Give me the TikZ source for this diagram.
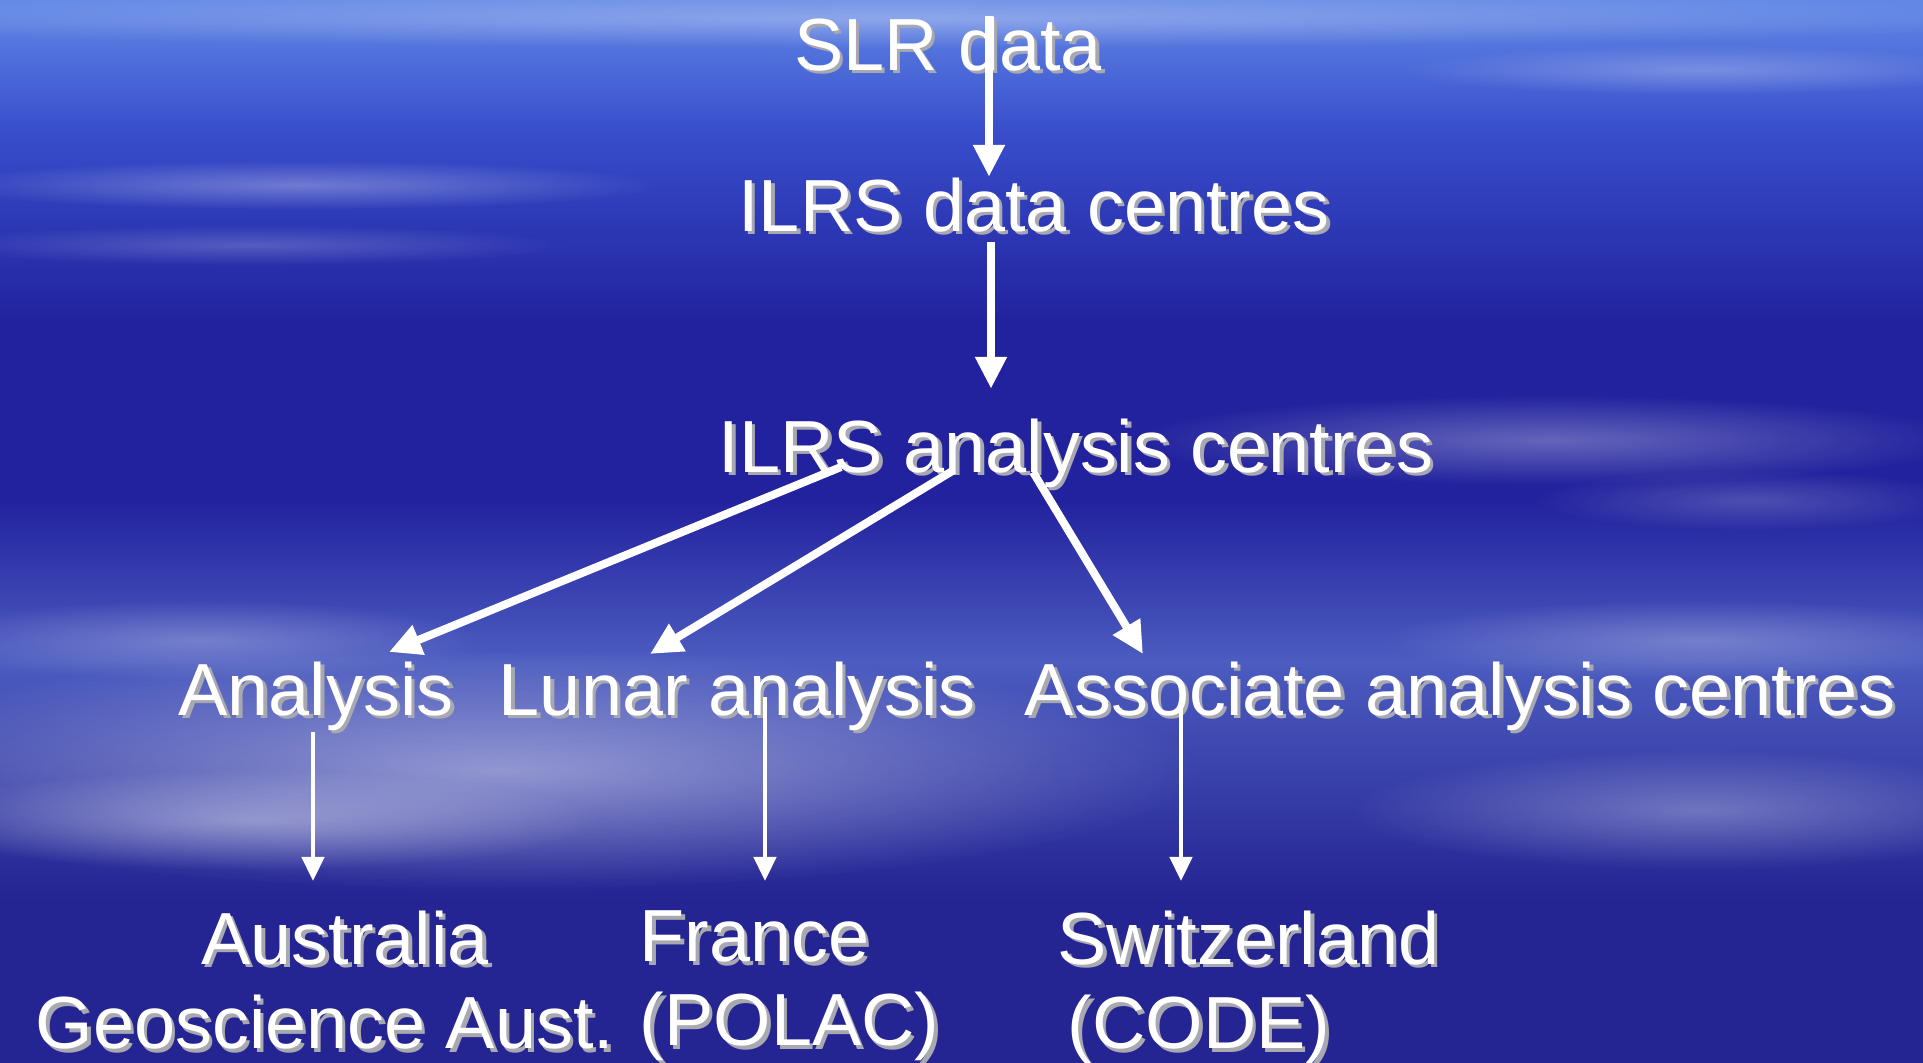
\documentclass[tikz,border=0pt]{standalone}
\usepackage{fontspec}
\setmainfont{Liberation Sans}
\usepackage{tikz}
\usetikzlibrary{arrows.meta, calc, fadings}
\definecolor{skyTop}{RGB}{98, 136, 230}
\definecolor{skyUpper}{RGB}{56, 78, 204}
\definecolor{skyNavy}{RGB}{34, 34, 158}
\definecolor{skyMist}{RGB}{76, 92, 192}
\definecolor{skyBottom}{RGB}{36, 36, 146}
\definecolor{shadowGray}{RGB}{168, 168, 176}

\tikzfading[name=soft blob, inner color=transparent!0, outer color=transparent!100]

% white text with a small grey drop shadow
\newcommand{\dropsh}[1]{\leavevmode\rlap{\kern0.035cm\raisebox{-0.035cm}{\textcolor{shadowGray}{#1}}}#1}

\begin{document}
\begin{tikzpicture}[
    x=0.01cm, y=-0.01cm,
    font=\fontsize{21pt}{24pt}\selectfont,
    % Estilo para textos
    label_text/.style={
        text=white,
        inner sep=0pt,
        anchor=base
    },
    % Flechas gruesas (parte superior)
    big_arrow/.style={
        -{Triangle[length=0.32cm, width=0.30cm]},
        line width=0.08cm,
        white
    },
    % Flechas finas (parte inferior)
    small_arrow/.style={
        -{Triangle[length=0.24cm, width=0.22cm]},
        line width=0.045cm,
        white
    },
    % Nubes del fondo
    streak/.style={
        fill=white,
        path fading=soft blob
    }
]

    \useasboundingbox (0,0) rectangle (1923,1063);

    % --- Fondo: cielo azul ---
    \shade[top color=skyTop, bottom color=skyUpper] (0,0) rectangle (1923,131);
    \shade[top color=skyUpper, bottom color=skyNavy] (0,130) rectangle (1923,321);
    \fill[skyNavy] (0,320) rectangle (1923,501);
    \shade[top color=skyNavy, bottom color=skyMist] (0,500) rectangle (1923,661);
    \shade[top color=skyMist, bottom color=skyBottom] (0,660) rectangle (1923,901);
    \fill[skyBottom] (0,900) rectangle (1923,1063);

    \fill[streak, opacity=0.3] (900,18) ellipse [x radius=12cm, y radius=0.3cm];
    \fill[streak, opacity=0.25] (1700,70) ellipse [x radius=3cm, y radius=0.25cm];
    \fill[streak, opacity=0.3] (300,185) ellipse [x radius=3.6cm, y radius=0.25cm];
    \fill[streak, opacity=0.2] (250,245) ellipse [x radius=3.2cm, y radius=0.2cm];
    \fill[streak, opacity=0.3] (1550,440) ellipse [x radius=4.2cm, y radius=0.45cm];
    \fill[streak, opacity=0.2] (1750,500) ellipse [x radius=2.2cm, y radius=0.3cm];
    \fill[streak, opacity=0.25] (1700,640) ellipse [x radius=3.2cm, y radius=0.4cm];
    \fill[streak, opacity=0.25] (200,640) ellipse [x radius=2.8cm, y radius=0.4cm];
    \fill[streak, opacity=0.45] (500,770) ellipse [x radius=7cm, y radius=1.2cm];
    \fill[streak, opacity=0.35] (250,820) ellipse [x radius=3.5cm, y radius=0.5cm];
    \fill[streak, opacity=0.3] (1700,810) ellipse [x radius=3.5cm, y radius=0.6cm];

    % --- Textos ---
    \node[label_text] (slr_data) at (948,70) {\dropsh{SLR data}};
    \node[label_text] (ilrs_data) at (1034,231) {\dropsh{ILRS data centres}};
    \node[label_text] (ilrs_ana) at (1076,472) {\dropsh{ILRS analysis centres}};

    \node[label_text] (ana) at (316,715) {\dropsh{Analysis}};
    \node[label_text] (lunar) at (737,715) {\dropsh{Lunar analysis}};
    \node[label_text] (assoc) at (1460,715) {\dropsh{Associate analysis centres}};

    \node[label_text, anchor=north, align=center] (aus) at (325,910) {
        \hspace*{0.4cm}\dropsh{Australia}\\
        \dropsh{Geoscience Aust.}
    };
    \node[label_text, anchor=north west, align=left] (fra) at (639,910) {
        \dropsh{France}\\
        \dropsh{(POLAC)}
    };
    \node[label_text, anchor=north west, align=left] (swi) at (1057,910) {
        \dropsh{Switzerland}\\
        \hspace*{0.1cm}\dropsh{(CODE)}
    };

    % --- Flechas ---
    \draw[big_arrow] ($(slr_data.north)+(41,0)$) -- ($(ilrs_data.north)+(-45,0)$);
    \draw[big_arrow] ($(ilrs_data.base)+(-43,11)$) -- ($(ilrs_ana.north)+(-85,-29)$);

    \draw[big_arrow] ($(ilrs_ana.base)+(-235,-5)$) -- ($(ana.base)+(73,-63)$);
    \draw[big_arrow] ($(ilrs_ana.base)+(-122,-2)$) -- ($(lunar.base)+(-87,-61)$);
    \draw[big_arrow] ($(ilrs_ana.base)+(-43,0)$) -- ($(assoc.base)+(-317,-61)$);

    \draw[small_arrow] ($(ana.base)+(-3,17)$) -- ($(aus.north)+(-12,-29)$);
    \draw[small_arrow] ($(lunar.base)+(28,-18)$) -- ($(fra.north west)+(126,-29)$);
    \draw[small_arrow] ($(assoc.base)+(-279,-12)$) -- ($(swi.north west)+(124,-29)$);

\end{tikzpicture}
\end{document}
